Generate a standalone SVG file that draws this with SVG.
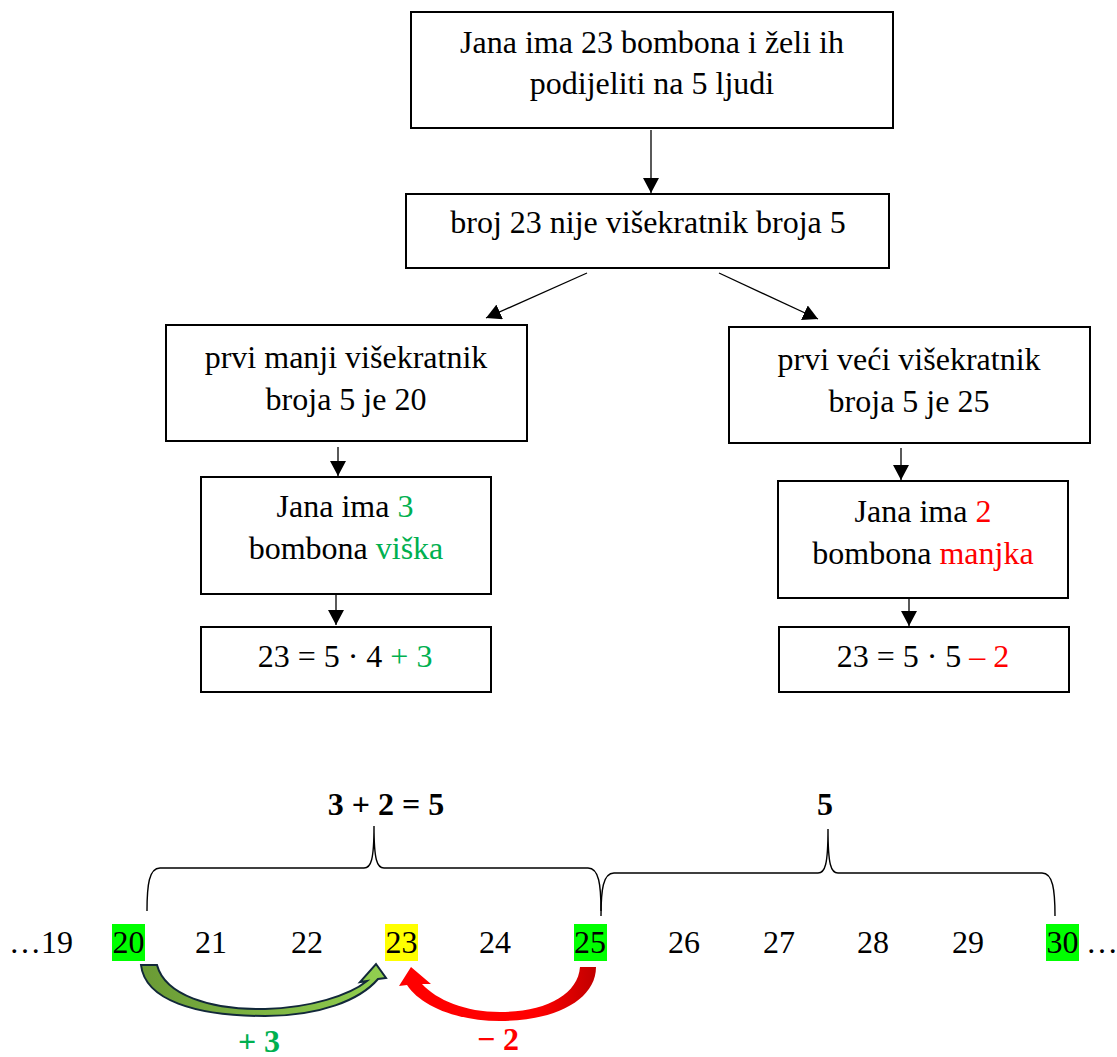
<svg xmlns="http://www.w3.org/2000/svg" width="1117" height="1057" viewBox="0 0 1117 1057">
<style>
  .box { fill: #ffffff; stroke: #000000; stroke-width: 2; }
  .t { font-family: "Liberation Serif", "Times New Roman", serif; font-size: 32px; fill: #000000; text-anchor: middle; }
  .b { font-weight: bold; }
  .g { fill: #00b050; }
  .r { fill: #ff0000; }
  .conn { stroke: #000000; stroke-width: 1.3; fill: none; marker-end: url(#ah); }
  .brace { stroke: #000000; stroke-width: 1.4; fill: none; }
  .hlg { fill: #00ff00; }
  .hly { fill: #ffff00; }
</style>
<defs>
  <marker id="ah" markerUnits="userSpaceOnUse" markerWidth="16" markerHeight="16" refX="15" refY="8" orient="auto" viewBox="0 0 16 16">
    <path d="M0,0 L15,8 L0,16 Z" fill="#000000"/>
  </marker>
  <linearGradient id="gGreen" x1="0" y1="0" x2="1" y2="0">
    <stop offset="0" stop-color="#6a9a35"/>
    <stop offset="1" stop-color="#92d050"/>
  </linearGradient>
  <linearGradient id="gRed" x1="0" y1="0" x2="1" y2="0">
    <stop offset="0" stop-color="#ff0000"/>
    <stop offset="0.7" stop-color="#ff0000"/>
    <stop offset="1" stop-color="#c00000"/>
  </linearGradient>
</defs>
<rect width="1117" height="1057" fill="#ffffff"/>

<g id="connectors">
  <line class="conn" x1="651" y1="130" x2="651" y2="193"/>
  <line class="conn" x1="587" y1="273" x2="486" y2="318"/>
  <line class="conn" x1="719" y1="273" x2="818" y2="319"/>
  <line class="conn" x1="338" y1="447" x2="338" y2="476"/>
  <line class="conn" x1="336" y1="594" x2="336" y2="625"/>
  <line class="conn" x1="901" y1="448" x2="901" y2="480"/>
  <line class="conn" x1="909" y1="599" x2="909" y2="626"/>
</g>

<g id="n-start">
  <rect class="box" x="411" y="12" width="482" height="116"/>
  <text class="t" x="652" y="53">Jana ima 23 bombona i želi ih</text>
  <text class="t" x="652" y="94">podijeliti na 5 ljudi</text>
</g>
<g id="n-nije">
  <rect class="box" x="406" y="194" width="483" height="74"/>
  <text class="t" x="648" y="233">broj 23 nije višekratnik broja 5</text>
</g>
<g id="n-manji">
  <rect class="box" x="166" y="325" width="361" height="116"/>
  <text class="t" x="346" y="368">prvi manji višekratnik</text>
  <text class="t" x="346" y="410">broja 5 je 20</text>
</g>
<g id="n-veci">
  <rect class="box" x="729" y="327" width="361" height="116"/>
  <text class="t" x="909" y="370">prvi veći višekratnik</text>
  <text class="t" x="909" y="412">broja 5 je 25</text>
</g>
<g id="n-viska">
  <rect class="box" x="201" y="477" width="290" height="117"/>
  <text class="t" x="345" y="517">Jana ima <tspan class="g">3</tspan></text>
  <text class="t" x="346" y="559">bombona <tspan class="g">viška</tspan></text>
</g>
<g id="n-manjka">
  <rect class="box" x="778" y="481" width="290" height="117"/>
  <text class="t" x="923" y="522">Jana ima <tspan class="r">2</tspan></text>
  <text class="t" x="923" y="564">bombona <tspan class="r">manjka</tspan></text>
</g>
<g id="n-eq1">
  <rect class="box" x="201" y="627" width="290" height="65"/>
  <text class="t" x="345" y="667">23 = 5 · 4 <tspan class="g">+ 3</tspan></text>
</g>
<g id="n-eq2">
  <rect class="box" x="779" y="627" width="290" height="65"/>
  <text class="t" x="923" y="667">23 = 5 · 5 <tspan class="r">– 2</tspan></text>
</g>

<g id="numberline">
  <text class="t b" x="386" y="815">3 + 2 = 5</text>
  <text class="t b" x="825" y="815">5</text>
  <path class="brace" d="M147,911 C147,885 149,868 160,868 L364,868 C371,868 374,860 374,826 C374,860 377,868 384,868 L588,868 C599,868 601,885 601,911"/>
  <path class="brace" d="M601,916 C601,890 603,873 614,873 L818,873 C825,873 828,865 828,829 C828,865 831,873 838,873 L1042,873 C1053,873 1055,890 1055,916"/>

  <rect class="hlg" x="112" y="924" width="33" height="37"/>
  <rect class="hly" x="385" y="924" width="33" height="37"/>
  <rect class="hlg" x="574" y="924" width="33" height="37"/>
  <rect class="hlg" x="1046" y="924" width="33" height="37"/>

  <text class="t" x="9" y="953" style="text-anchor:start">…19</text>
  <text class="t" x="128.5" y="953">20</text>
  <text class="t" x="211" y="953">21</text>
  <text class="t" x="307" y="953">22</text>
  <text class="t" x="401.5" y="953">23</text>
  <text class="t" x="495" y="953">24</text>
  <text class="t" x="590" y="953">25</text>
  <text class="t" x="684" y="953">26</text>
  <text class="t" x="779" y="953">27</text>
  <text class="t" x="873" y="953">28</text>
  <text class="t" x="968" y="953">29</text>
  <text class="t" x="1062.5" y="953">30</text>
  <text class="t" x="1086" y="953" style="text-anchor:start">…</text>

  <path d="M141,965 C145,1000 195,1016 265,1016 C320,1016 360,1000 378,979 L386,978 L376,964 L360,982 L367,981 C350,995 310,1008 265,1009 C210,1010 165,995 157,965 Z" fill="url(#gGreen)" stroke="#12283a" stroke-width="2" stroke-linejoin="miter"/>
  <path d="M596,967 C596,1000 555,1021 500,1021 C455,1021 420,1005 407,985 L399,986 L411,967 L431,984 L422,984 C437,1000 465,1012 500,1012 C545,1012 578,995 580,967 Z" fill="url(#gRed)"/>

  <text class="t b g" x="259" y="1052">+ 3</text>
  <text class="t b r" x="498" y="1050">− 2</text>
</g>
</svg>
